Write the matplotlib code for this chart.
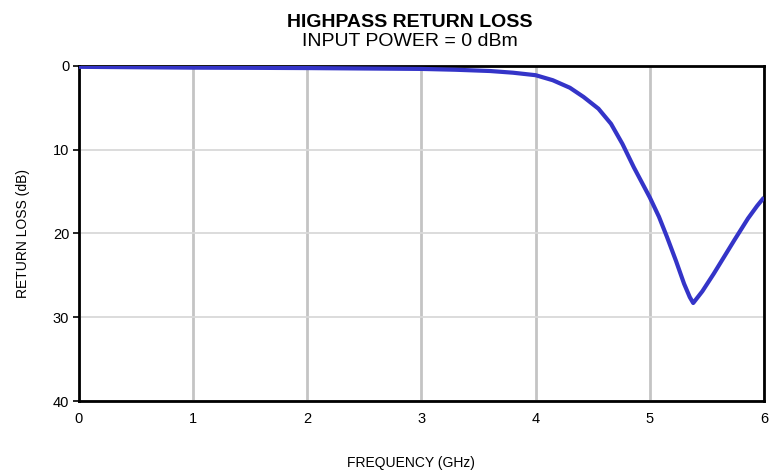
import matplotlib
matplotlib.use("Agg")
import matplotlib.pyplot as plt
from matplotlib import font_manager

# ── Data ──────────────────────────────────────────────────────────────────────
freq_ghz = [0.0, 0.5, 1.0, 1.5, 2.0, 2.5, 3.0, 3.3, 3.6, 3.8, 4.0, 4.15, 4.3,
            4.42, 4.55, 4.66, 4.76, 4.86, 5.0, 5.08, 5.15, 5.23, 5.30, 5.35,
            5.38, 5.46, 5.56, 5.65, 5.74, 5.86, 5.94, 6.0]
return_loss_db = [0.1, 0.15, 0.2, 0.22, 0.25, 0.3, 0.35, 0.45, 0.6, 0.8, 1.1,
                  1.7, 2.6, 3.7, 5.1, 6.9, 9.3, 12.1, 15.7, 18.0, 20.4, 23.3,
                  26.0, 27.6, 28.3, 26.9, 24.8, 22.8, 20.8, 18.2, 16.7, 15.7]

x_ticks = [0, 1, 2, 3, 4, 5, 6]
y_ticks = [0, 10, 20, 30, 40]

BLUE = "#3434C8"

names = {f.name for f in font_manager.fontManager.ttflist}
FONT = ["Liberation Sans Narrow"] if "Liberation Sans Narrow" in names else ["Liberation Sans"]
plt.rcParams["font.family"] = FONT + ["DejaVu Sans"]

fig = plt.figure(figsize=(7.78, 4.72), dpi=100)
ax = fig.add_axes([0.1015, 0.1504, 0.8805, 0.7098])

ax.plot(freq_ghz, return_loss_db, color=BLUE, linewidth=3.0,
        solid_capstyle="butt", zorder=3)

ax.set_xlim(0, 6)
ax.set_ylim(40, 0)
ax.set_xticks(x_ticks)
ax.set_yticks(y_ticks)

ax.xaxis.grid(True, color="#C4C4C4", linewidth=2.0)
ax.yaxis.grid(True, color="#D9D9D9", linewidth=1.3)
ax.set_axisbelow(True)

for s in ax.spines.values():
    s.set_color("black")
    s.set_linewidth(2.0)

ax.tick_params(axis="x", length=0, pad=8, labelsize=10.5)
ax.tick_params(axis="y", length=4, width=1.2, direction="out", pad=3, labelsize=10.5)

fig.text(0.527, 0.952, "HIGHPASS RETURN LOSS", ha="center", va="center",
         fontsize=14, fontweight="bold")
fig.text(0.527, 0.912, "INPUT POWER = 0 dBm", ha="center", va="center",
         fontsize=14)
fig.text(0.528, 0.020, "FREQUENCY (GHz)", ha="center", va="center",
         fontsize=10)
fig.text(0.030, 0.505, "RETURN LOSS (dB)", ha="center", va="center",
         rotation=90, fontsize=10)

fig.savefig("out.png", dpi=100)
